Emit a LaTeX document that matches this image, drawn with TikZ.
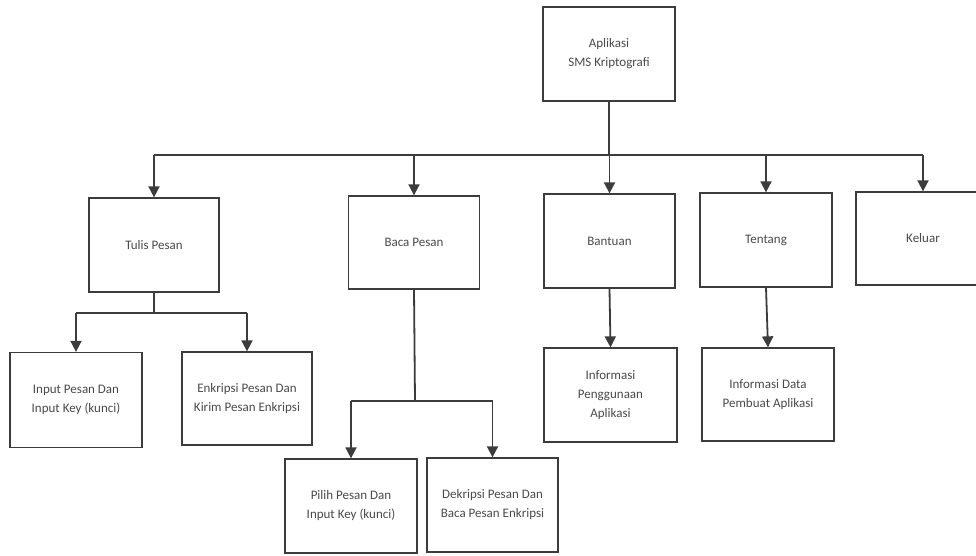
\documentclass[tikz,border=0pt]{standalone}
\usepackage{fontspec}
\setmainfont{Carlito}
\usetikzlibrary{arrows.meta}
\definecolor{ink}{HTML}{3C3C3C}
\definecolor{textgray}{HTML}{4A4A4A}
\begin{document}
\begin{tikzpicture}[x=1pt,y=-1pt,
  box/.style={draw=ink,line width=1.3pt,fill=white,text=textgray,align=center,
    font=\fontsize{13}{19}\selectfont,inner sep=0pt},
  link/.style={draw=ink,line width=1.8pt},
  arr/.style={link,-{Triangle[length=11pt,width=11pt]}}]
\useasboundingbox (0,0) rectangle (976,555);
\begin{scope}
\clip (0,0) rectangle (976,555);
% level 0
\node[box,minimum width=132pt,minimum height=94pt] (root) at (609,54) {Aplikasi\\SMS Kriptografi};
% level 1
\node[box,minimum width=130pt,minimum height=94pt] (tulis) at (154,245) {Tulis Pesan};
\node[box,minimum width=131pt,minimum height=93pt] (baca) at (414,242.5) {Baca Pesan};
\node[box,minimum width=131pt,minimum height=94pt] (bantuan) at (609.5,241) {Bantuan};
\node[box,minimum width=132pt,minimum height=94pt] (tentang) at (766,240) {Tentang};
\node[box,minimum width=134pt,minimum height=93pt] (keluar) at (923,238.5) {Keluar};
% level 2
\node[box,minimum width=132pt,minimum height=95pt] (input) at (76,400) {Input Pesan Dan\\Input Key (kunci)};
\node[box,minimum width=130pt,minimum height=93pt] (enkripsi) at (247,398.5) {Enkripsi Pesan Dan\\Kirim Pesan Enkripsi};
\node[box,minimum width=132pt,minimum height=94pt] (pilih) at (351,506) {Pilih Pesan Dan\\Input Key (kunci)};
\node[box,minimum width=131pt,minimum height=94pt] (dekripsi) at (492.5,505) {Dekripsi Pesan Dan\\Baca Pesan Enkripsi};
\node[box,minimum width=133pt,minimum height=94pt] (infoguna) at (610.5,395) {Informasi\\Penggunaan\\Aplikasi};
\node[box,minimum width=132pt,minimum height=93pt] (infodata) at (768,394.5) {Informasi Data\\Pembuat Aplikasi};
% junction points of the trees
\coordinate (j0) at (609,155);
\coordinate (j1) at (154,313);
\coordinate (j2) at (415,401);
% main menu branches
\draw[link] (root.south) -- (j0);
\draw[link] (tulis.north |- j0) -- (keluar.north |- j0);
\foreach \n in {tulis,baca,bantuan,tentang,keluar}
  \draw[arr] (\n.north |- j0) -- (\n.north);
% Tulis Pesan branches
\draw[link] (tulis.south) -- (j1);
\draw[link] (input.north |- j1) -- (enkripsi.north |- j1);
\draw[arr] (input.north |- j1) -- (input.north);
\draw[arr] (enkripsi.north |- j1) -- (enkripsi.north);
% Baca Pesan branches
\draw[link] (baca.south) -- (j2);
\draw[link] (pilih.north |- j2) -- (dekripsi.north |- j2);
\draw[arr] (pilih.north |- j2) -- (pilih.north);
\draw[arr] (dekripsi.north |- j2) -- (dekripsi.north);
% single children
\draw[arr] (bantuan.south) -- (infoguna.north);
\draw[arr] (tentang.south) -- (infodata.north);
\end{scope}
\end{tikzpicture}
\end{document}
